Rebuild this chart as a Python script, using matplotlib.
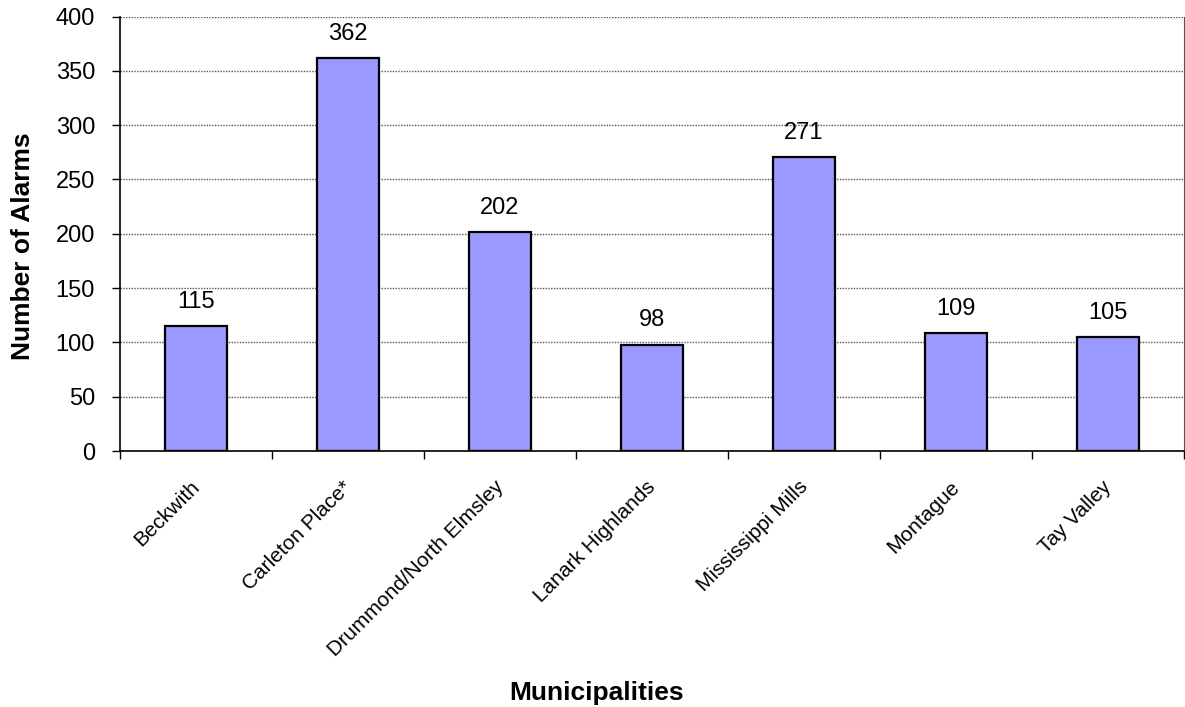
import matplotlib.pyplot as plt
import matplotlib.transforms as mtransforms
import numpy as np

municipalities = ["Beckwith", "Carleton Place*", "Drummond/North Elmsley",
                  "Lanark Highlands", "Mississippi Mills", "Montague", "Tay Valley"]
alarms = [115, 362, 202, 98, 271, 109, 105]

plt.rcParams['font.family'] = ['Liberation Sans', 'DejaVu Sans']

fig = plt.figure(figsize=(11.85, 7.07), dpi=100)
ax = fig.add_axes([120 / 1185, 256 / 707, 1064 / 1185, 434.5 / 707])

x = np.arange(len(municipalities))
ax.bar(x, alarms, width=0.41, color="#9999FF", edgecolor="black",
       linewidth=1.6, zorder=3)

# value labels above the bars
for xi, v in zip(x, alarms):
    ax.annotate(str(v), (xi, v), xytext=(0, 13), textcoords="offset points",
                ha="center", va="baseline", fontsize=17)

ax.set_xlim(-0.5, len(municipalities) - 0.5)
ax.set_ylim(0, 400)
ax.set_yticks(range(0, 401, 50))
ax.yaxis.grid(True, linestyle=(0, (1, 1)), color="#555555", linewidth=1, zorder=0)

ax.set_xticks(x)
ax.set_xticklabels(municipalities, rotation=45, ha="right",
                   rotation_mode="anchor", fontsize=15)
ax.tick_params(axis="x", length=0, pad=19)
# nudge the rotated labels a little to the left
shift = mtransforms.ScaledTranslation(-6 / 100, 0, fig.dpi_scale_trans)
for lbl in ax.get_xticklabels():
    lbl.set_transform(lbl.get_transform() + shift)
ax.set_xticks(np.arange(-0.5, len(municipalities)), minor=True)
ax.tick_params(axis="x", which="minor", length=6, width=1)
ax.tick_params(axis="y", labelsize=17, length=6, width=1, pad=12)

ax.spines["top"].set_visible(False)
ax.spines["right"].set_linestyle((0, (1, 1)))
ax.spines["right"].set_color("#555555")
ax.spines["left"].set_linewidth(1.2)
ax.spines["bottom"].set_linewidth(1.2)

fig.text(23 / 1185, 1 - 246 / 707, "Number of Alarms", rotation=90,
         ha="center", va="center", fontsize=19, fontweight="bold")
fig.text(597 / 1185, 1 - 693 / 707, "Municipalities",
         ha="center", va="center", fontsize=19, fontweight="bold")

fig.savefig("out.png", dpi=100)
